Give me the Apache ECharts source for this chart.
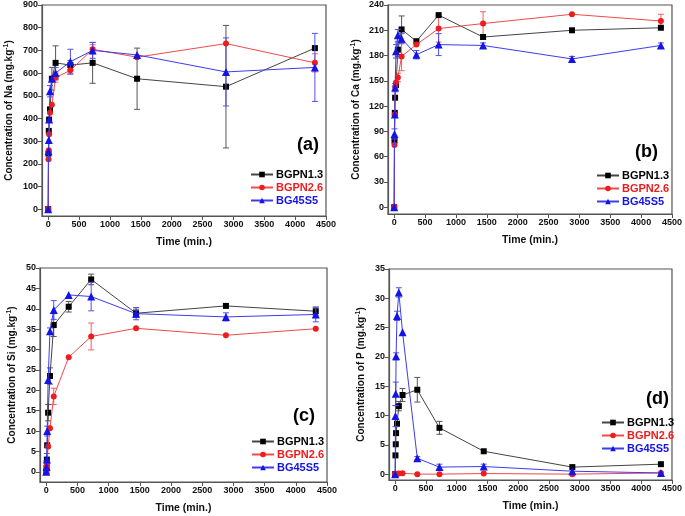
<!DOCTYPE html>
<html><head><meta charset="utf-8">
<script src="https://cdn.jsdelivr.net/npm/echarts@6/dist/echarts.min.js"></script>
<style>html,body{margin:0;padding:0;background:#fff}#c{width:685px;height:516px}</style>
</head><body><div id="c"></div>
<script>
const times = [0, 5, 10, 15, 30, 60, 120, 360, 720, 1440, 2880, 4320];
const seriesNames = ['BGPN1.3', 'BGPN2.6', 'BG45S5'];
const xTicks = [0, 500, 1000, 1500, 2000, 2500, 3000, 3500, 4000, 4500];

// (a) Na
const naBGPN13 = [0, 245, 345, 395, 440, 575, 645, 635, 645, 575, 540, 710];
const naBGPN26 = [0, 220, 260, 330, 425, 460, 580, 612, 705, 670, 730, 645];
const naBG45S5 = [0, 255, 305, 395, 520, 575, 600, 650, 700, 680, 605, 625];
const naErrBGPN13 = [0, 0, 0, 0, 0, 50, 75, 20, 90, 135, 270, 0];
const naErrBGPN26 = [0, 0, 0, 0, 0, 0, 20, 15, 20, 0, 0, 40];
const naErrBG45S5 = [0, 0, 0, 0, 25, 0, 25, 55, 35, 0, 150, 150];
const naTicks = [0, 100, 200, 300, 400, 500, 600, 700, 800, 900];

// (b) Ca
const caBGPN13 = [0, 79, 112, 130, 145, 187, 211, 197, 228, 202, 210, 213];
const caBGPN26 = [0, 74, 110, 143, 148, 154, 179, 193, 212, 218, 229, 221];
const caBG45S5 = [0, 87, 110, 142, 185, 204, 200, 181, 193, 192, 176, 192];
const caErrBGPN13 = [0, 0, 0, 0, 0, 8, 16, 0, 0, 3, 0, 0];
const caErrBGPN26 = [0, 0, 0, 0, 0, 5, 17, 0, 16, 14, 0, 8];
const caErrBG45S5 = [0, 6, 0, 5, 8, 7, 6, 5, 13, 3, 3, 3];
const caTicks = [0, 30, 60, 90, 120, 150, 180, 210, 240];

// (c) Si
const siBGPN13 = [0, 1, 3, 6.5, 14.5, 23.5, 36, 40.5, 47.2, 38.9, 40.7, 39.4];
const siBGPN26 = [0, 0.5, 1.5, 2.2, 6.2, 10.7, 18.5, 28.1, 33.2, 35.2, 33.5, 35.1];
const siBG45S5 = [0, 1.2, 3, 10, 22.5, 34.5, 39.7, 43.4, 43, 38.8, 38, 38.6];
const siErrBGPN13 = [0, 0, 0, 0, 2, 2, 2.8, 1.3, 1.3, 1, 0, 1];
const siErrBGPN26 = [0, 0, 0, 0, 0, 0, 2, 0, 3.3, 0, 0, 0];
const siErrBG45S5 = [0, 1.5, 1.5, 1.2, 0, 0.8, 2.3, 0, 3.5, 1.5, 1, 1.8];
const siTicks = [0, 5, 10, 15, 20, 25, 30, 35, 40, 45, 50];

// (d) P
const pBGPN13 = [0, 3.2, 5.1, 7.0, 8.6, 11.6, 13.5, 14.4, 7.9, 3.9, 1.2, 1.7];
const pBGPN26 = [0, 0, 0, 0, 0.05, 0.1, 0.15, 0, 0, 0.1, 0, 0.2];
const pBG45S5 = [0, 9.9, 13.7, 20.1, 27, 31, 24.2, 2.7, 1.2, 1.3, 0.5, 0.2];
const pErrBGPN13 = [0, 0, 0, 0, 0, 0.8, 1.1, 2.1, 1.1, 0, 0, 0];
const pErrBGPN26 = [0, 0, 0, 0, 0, 0, 0, 0, 0, 0, 0, 0];
const pErrBG45S5 = [0, 1.8, 2, 0.6, 0.8, 0.8, 0, 0.3, 0.5, 0.4, 0, 0];
const pTicks = [0, 5, 10, 15, 20, 25, 30, 35];

const FONT = "'Liberation Sans', Arial, sans-serif";
const markerColors = ['#000000', '#ee1c1c', '#1414e6'];
const lineColors = ['#444444', '#f04a4a', '#3c3cf0'];
const errColors = ['#555555', '#f06060', '#5050f0'];
const symbols = ['rect', 'circle', 'triangle'];

const panels = [
  {name: 'Na', vals: [naBGPN13, naBGPN26, naBG45S5], errs: [naErrBGPN13, naErrBGPN26, naErrBG45S5], ticks: naTicks, min: -30, max: 900,
   grid: {left: 42, top: 5, width: 284, height: 211}, nameGap: 26, label: '(a)', lx: 307, ly: 146, legL: 245, legT: 164},
  {name: 'Ca', vals: [caBGPN13, caBGPN26, caBG45S5], errs: [caErrBGPN13, caErrBGPN26, caErrBG45S5], ticks: caTicks, min: -8, max: 240,
   grid: {left: 388, top: 5, width: 290, height: 209}, nameGap: 25, label: '(b)', lx: 645, ly: 153, legL: 591, legT: 165},
  {name: 'Si', vals: [siBGPN13, siBGPN26, siBG45S5], errs: [siErrBGPN13, siErrBGPN26, siErrBG45S5], ticks: siTicks, min: -2.5, max: 50,
   grid: {left: 40, top: 268, width: 287, height: 214}, nameGap: 21, label: '(c)', lx: 303, ly: 417, legL: 246, legT: 431},
  {name: 'P', vals: [pBGPN13, pBGPN26, pBG45S5], errs: [pErrBGPN13, pErrBGPN26, pErrBG45S5], ticks: pTicks, min: -1, max: 35,
   grid: {left: 389, top: 269, width: 284, height: 211}, nameGap: 21, label: '(d)', lx: 656, ly: 400, legL: 596, legT: 412}
];

function errRender(color) {
  return function (params, api) {
    const x = api.value(0), y = api.value(1), e = api.value(2);
    const lo = api.coord([x, y - e]);
    const hi = api.coord([x, y + e]);
    const w = 3;
    const st = {stroke: color, lineWidth: 1};
    return {type: 'group', children: [
      {type: 'line', shape: {x1: lo[0], y1: lo[1], x2: hi[0], y2: hi[1]}, style: st},
      {type: 'line', shape: {x1: lo[0] - w, y1: lo[1], x2: lo[0] + w, y2: lo[1]}, style: st},
      {type: 'line', shape: {x1: hi[0] - w, y1: hi[1], x2: hi[0] + w, y2: hi[1]}, style: st}
    ]};
  };
}

const grids = [], xAxes = [], yAxes = [], series = [], legends = [], graphics = [];
panels.forEach((p, i) => {
  grids.push(Object.assign({show: true, borderColor: '#555', borderWidth: 1.2, backgroundColor: 'transparent'}, p.grid));
  xAxes.push({
    type: 'value', gridIndex: i, min: -100, max: 4500,
    name: 'Time (min.)', nameLocation: 'middle', nameGap: 21,
    nameTextStyle: {fontFamily: FONT, fontWeight: 'bold', fontSize: 10.5, color: '#111'},
    axisLine: {show: true, onZero: false, lineStyle: {color: '#555', width: 1.2}},
    axisTick: {show: true, inside: false, length: 4, customValues: xTicks, lineStyle: {color: '#555'}},
    axisLabel: {customValues: xTicks, formatter: v => String(v), fontFamily: FONT, fontWeight: 'bold', fontSize: 9, color: '#111', margin: 4},
    splitLine: {show: false}
  });
  yAxes.push({
    type: 'value', gridIndex: i, min: p.min, max: p.max,
    name: 'Concentration of ' + p.name + ' (mg.kg{sup|-1})', nameLocation: 'middle', nameGap: p.nameGap,
    nameTextStyle: {fontFamily: FONT, fontWeight: 'bold', fontSize: 10, color: '#111',
      rich: {sup: {fontFamily: FONT, fontWeight: 'bold', fontSize: 7, color: '#111', verticalAlign: 'top', padding: [0, 0, 6, 0]}}},
    axisLine: {show: true, onZero: false, lineStyle: {color: '#555', width: 1.2}},
    axisTick: {show: true, inside: false, length: 4, customValues: p.ticks, lineStyle: {color: '#555'}},
    axisLabel: {customValues: p.ticks, formatter: v => String(v), fontFamily: FONT, fontWeight: 'bold', fontSize: 9, color: '#111', margin: 4},
    splitLine: {show: false}
  });
  seriesNames.forEach((sn, k) => {
    series.push({
      type: 'custom', name: sn + '_err' + i, xAxisIndex: i, yAxisIndex: i,
      renderItem: errRender(errColors[k]), encode: {x: 0, y: 1}, z: 2 + k,
      data: times.map((t, j) => [t, p.vals[k][j], p.errs[k][j]]).filter(d => d[2] > 0),
      silent: true
    });
    series.push({
      type: 'line', name: sn, xAxisIndex: i, yAxisIndex: i, z: 3 + k,
      data: times.map((t, j) => [t, p.vals[k][j]]),
      symbol: symbols[k], symbolSize: k === 2 ? 8 : 6, showAllSymbol: true,
      lineStyle: {color: lineColors[k], width: 1},
      itemStyle: {color: markerColors[k], borderColor: markerColors[k], borderWidth: 0},
      animation: false
    });
  });
  legends.push({
    show: true, orient: 'vertical', left: p.legL, top: p.legT, itemWidth: 22, itemHeight: 7, itemGap: 2,
    data: seriesNames.map((sn, k) => ({name: sn, textStyle: {color: markerColors[k]}})),
    textStyle: {fontFamily: FONT, fontWeight: 'bold', fontSize: 11, padding: [0, 0, 0, -2]},
    selectedMode: false
  });
  graphics.push({type: 'text', left: p.lx - 10, top: p.ly - 10,
    style: {text: p.label, font: 'bold 18px ' + FONT, fill: '#000'}});
});

const chart = echarts.init(document.getElementById('c'), null, {renderer: 'canvas'});
chart.setOption({
  animation: false,
  backgroundColor: '#fff',
  grid: grids, xAxis: xAxes, yAxis: yAxes, series: series, legend: legends, graphic: graphics
});
</script></body></html>
